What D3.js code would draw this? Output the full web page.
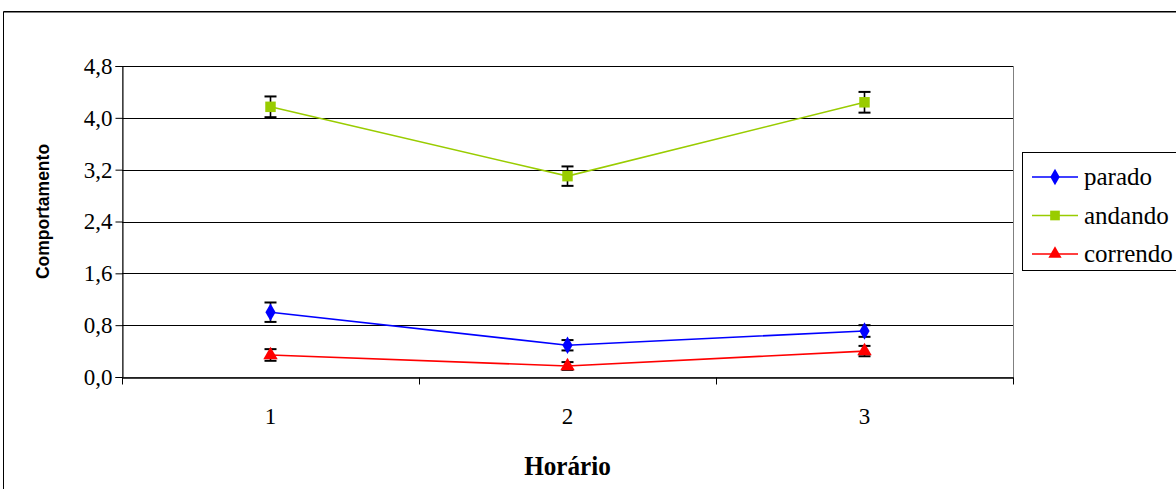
<!DOCTYPE html>
<html>
<head>
<meta charset="utf-8">
<script src="https://cdn.jsdelivr.net/npm/d3@7"></script>
<style>
  html, body { margin: 0; padding: 0; background: #fff; }
  svg { display: block; }
  .serif { font-family: "Liberation Serif", "Times New Roman", serif; }
  .sans { font-family: "Liberation Sans", Arial, sans-serif; }
</style>
</head>
<body>
<svg id="chart" width="1176" height="489"></svg>
<script>
// Behaviour by time slot, mean with error bars
const categories = ["1", "2", "3"];
const yTicks = [0, 0.8, 1.6, 2.4, 3.2, 4.0, 4.8];

const parado = [1.00, 0.49, 0.71];
const paradoErr = [0.15, 0.08, 0.09];
const andando = [4.17, 3.10, 4.24];
const andandoErr = [0.16, 0.15, 0.16];
const correndo = [0.34, 0.17, 0.40];
const correndoErr = [0.09, 0.06, 0.08];

const series = [
  { name: "parado", values: parado, err: paradoErr, color: "#0000FF", symbol: d3.symbolDiamond, size: 90 },
  { name: "andando", values: andando, err: andandoErr, color: "#99CC00", symbol: d3.symbolSquare, size: 110 },
  { name: "correndo", values: correndo, err: correndoErr, color: "#FF0000", symbol: d3.symbolTriangle, size: 90 }
];

const svg = d3.select("#chart");
const plot = { left: 122, right: 1013, top: 66, bottom: 377 };

const x = d3.scaleBand().domain(categories).range([plot.left, plot.right]);
const y = d3.scaleLinear().domain([0, 4.8]).range([plot.bottom, plot.top]);
const cx = c => x(c) + x.bandwidth() / 2;

// Chart frame
svg.append("path")
  .attr("d", "M3.5,489 V11.5 H1176")
  .attr("fill", "none").attr("stroke", "#000").attr("stroke-width", 1);
svg.append("line")
  .attr("x1", 4).attr("x2", 1176).attr("y1", 12.5).attr("y2", 12.5)
  .attr("stroke", "#808080").attr("stroke-width", 1);

// Plot area border
svg.append("rect")
  .attr("x", plot.left + 0.5).attr("y", plot.top + 0.5)
  .attr("width", plot.right - plot.left).attr("height", plot.bottom - plot.top)
  .attr("fill", "none").attr("stroke", "#808080").attr("stroke-width", 1);

// Horizontal gridlines
svg.append("g")
  .selectAll("line")
  .data(yTicks.filter(t => t > 0))
  .join("line")
  .attr("x1", plot.left).attr("x2", plot.right)
  .attr("y1", d => Math.round(y(d)) + 0.5).attr("y2", d => Math.round(y(d)) + 0.5)
  .attr("stroke", "#000").attr("stroke-width", 1);

// Y axis
const yAxis = svg.append("g")
  .attr("transform", `translate(${plot.left + 0.5},0)`)
  .call(d3.axisLeft(y).tickValues(yTicks).tickSize(7).tickPadding(3)
    .tickFormat(d => d3.format(".1f")(d).replace(".", ",")));
yAxis.attr("font-family", null).attr("font-size", null);
yAxis.select(".domain").attr("stroke", "#000");
yAxis.selectAll(".tick line").attr("stroke", "#000");
yAxis.selectAll("text")
  .attr("class", "serif")
  .style("font-size", "23px").attr("fill", "#000");

// X axis
const xAxis = svg.append("g")
  .attr("transform", `translate(0,${plot.bottom + 0.5})`)
  .call(d3.axisBottom(x).tickSize(0).tickPadding(30));
xAxis.attr("font-family", null).attr("font-size", null);
xAxis.select(".domain").attr("stroke", "#000").attr("stroke-width", 1.5);
xAxis.selectAll("text")
  .attr("class", "serif")
  .style("font-size", "23px").attr("fill", "#000");
// Tick marks between categories
const boundaries = [plot.left, ...categories.slice(1).map(c => x(c)), plot.right];
xAxis.selectAll(".bound")
  .data(boundaries)
  .join("line")
  .attr("class", "bound")
  .attr("x1", d => Math.round(d) + 0.5).attr("x2", d => Math.round(d) + 0.5)
  .attr("y1", 0).attr("y2", 7)
  .attr("stroke", "#000");

// Axis titles
svg.append("text")
  .attr("class", "sans")
  .attr("transform", `translate(49,${(plot.top + plot.bottom) / 2 - 10}) rotate(-90)`)
  .attr("text-anchor", "middle")
  .style("font-weight", "bold").style("font-size", "17.5px")
  .text("Comportamento");

svg.append("text")
  .attr("class", "serif")
  .attr("transform", `translate(${(plot.left + plot.right) / 2},475) scale(0.9,1)`)
  .attr("text-anchor", "middle")
  .style("font-weight", "bold").style("font-size", "28px")
  .text("Horário");

// Series lines, error bars, markers
const line = d3.line().x((d, i) => cx(categories[i])).y(d => y(d));

series.forEach(s => {
  const g = svg.append("g");
  g.append("path")
    .datum(s.values)
    .attr("d", line)
    .attr("fill", "none").attr("stroke", s.color).attr("stroke-width", 1.6);

  const eb = g.selectAll(".err")
    .data(s.values.map((v, i) => ({ v, e: s.err[i], c: categories[i] })))
    .join("g");
  eb.append("line")
    .attr("x1", d => cx(d.c)).attr("x2", d => cx(d.c))
    .attr("y1", d => y(d.v + d.e)).attr("y2", d => y(d.v - d.e))
    .attr("stroke", "#000").attr("stroke-width", 1.6);
  eb.selectAll(".cap")
    .data(d => [d.v + d.e, d.v - d.e].map(val => ({ val, c: d.c })))
    .join("line")
    .attr("x1", d => cx(d.c) - 6).attr("x2", d => cx(d.c) + 6)
    .attr("y1", d => y(d.val)).attr("y2", d => y(d.val))
    .attr("stroke", "#000").attr("stroke-width", 2);

  g.selectAll(".pt")
    .data(s.values)
    .join("path")
    .attr("transform", (d, i) => `translate(${cx(categories[i])},${y(d)})`)
    .attr("d", d3.symbol().type(s.symbol).size(s.size))
    .attr("fill", s.color);
});

// Legend
const legend = svg.append("g");
legend.append("rect")
  .attr("x", 1022.5).attr("y", 152.5).attr("width", 170).attr("height", 118)
  .attr("fill", "#fff").attr("stroke", "#000");
series.forEach((s, i) => {
  const ly = 177 + i * 38.5;
  legend.append("line")
    .attr("x1", 1032).attr("x2", 1078).attr("y1", ly).attr("y2", ly)
    .attr("stroke", s.color).attr("stroke-width", 1.6);
  legend.append("path")
    .attr("transform", `translate(1055,${ly})`)
    .attr("d", d3.symbol().type(s.symbol).size(s.size * 0.85))
    .attr("fill", s.color);
  legend.append("text")
    .attr("class", "serif")
    .attr("x", 1084).attr("y", ly + 8)
    .style("font-size", "25px").attr("fill", "#000")
    .text(s.name);
});
</script>
</body>
</html>
